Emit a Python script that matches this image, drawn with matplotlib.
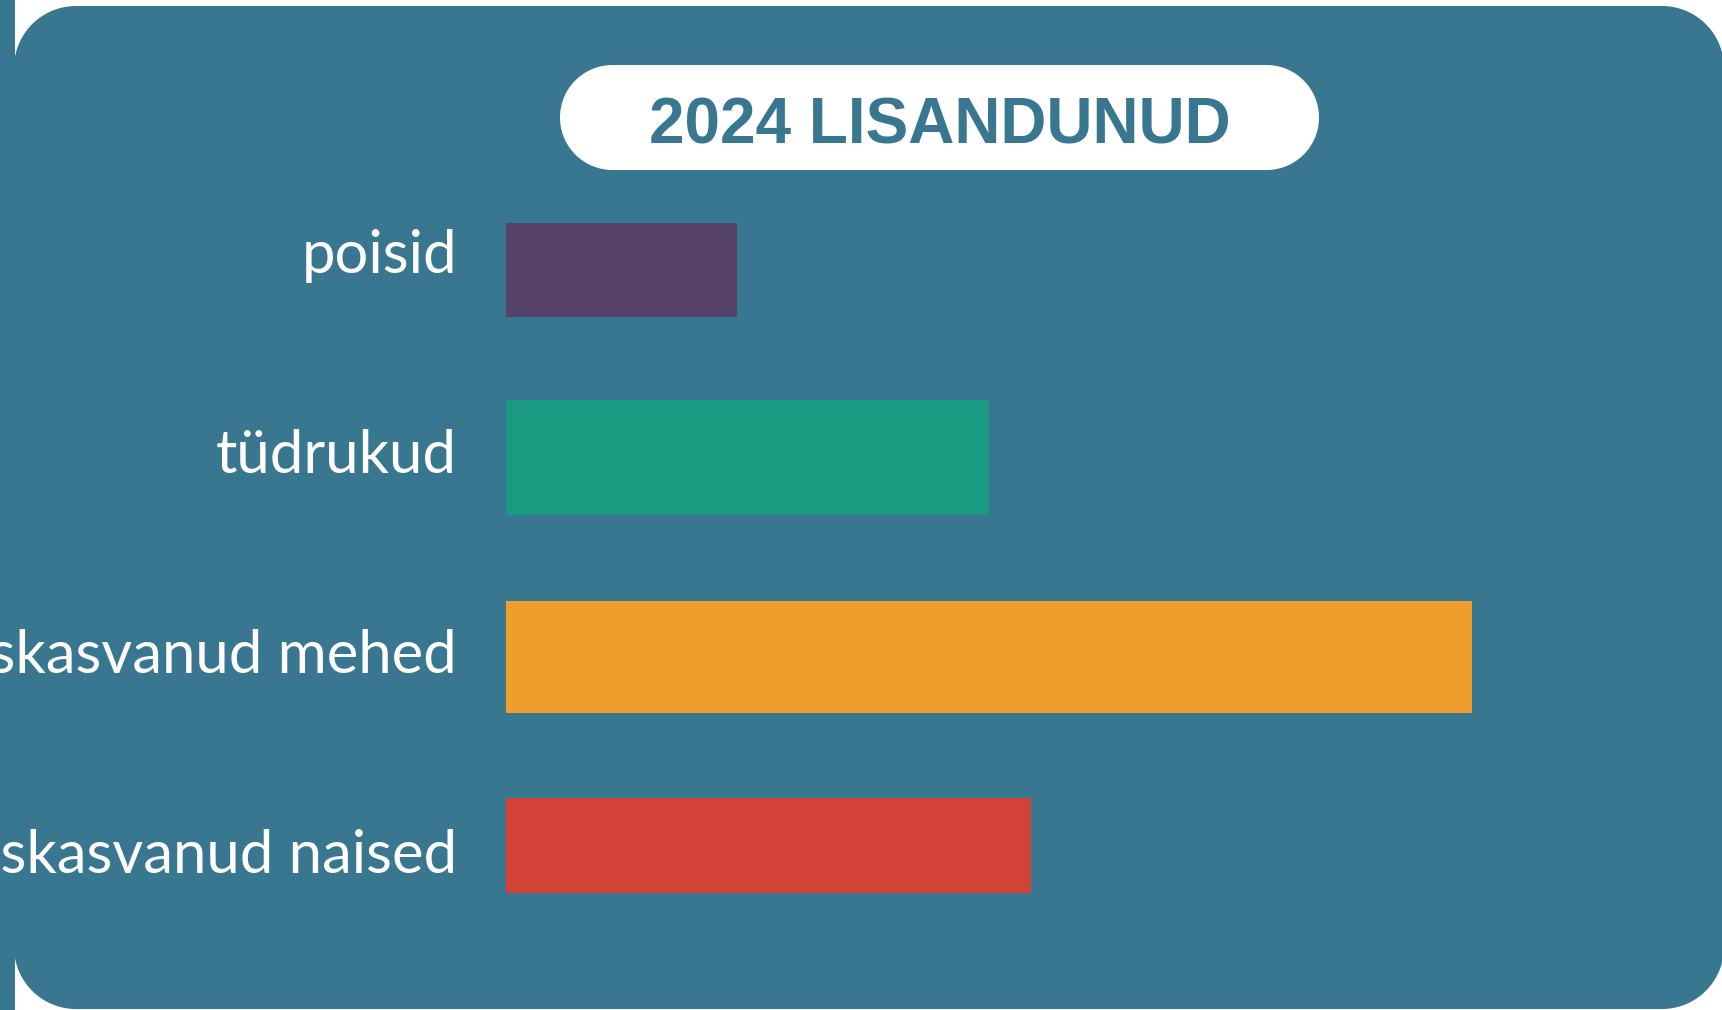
import matplotlib
matplotlib.use("Agg")
import matplotlib.pyplot as plt
import numpy as np
from matplotlib.patches import Polygon, Rectangle

# ---- data ----
categories = ["poisid", "tüdrukud", "täiskasvanud mehed", "täiskasvanud naised"]
values = [11, 23, 46, 25]
title = "2024 LISANDUNUD"

# ---- style ----
colors = ["#564268", "#1A9A80", "#EF9D2D", "#D24236"]
teal = "#38778F"
bar_centers = [270, 457.5, 657, 845.5]      # pixel rows
bar_heights = [94, 115, 112, 95]
label_baselines = [273, 473, 673, 873]


def rounded_rect(x, y, w, h, r, **kw):
    """Rounded rectangle with circular corners (y axis pointing down)."""
    t = np.linspace(0, np.pi / 2, 40)
    pts = []
    # top-left
    pts += list(zip(x + r - r * np.cos(t), y + r - r * np.sin(t)))
    # top-right
    pts += list(zip(x + w - r + r * np.sin(t), y + r - r * np.cos(t)))
    # bottom-right
    pts += list(zip(x + w - r + r * np.cos(t), y + h - r + r * np.sin(t)))
    # bottom-left
    pts += list(zip(x + r - r * np.sin(t), y + h - r + r * np.cos(t)))
    return Polygon(pts, closed=True, **kw)


W, H = 1722, 1010
fig = plt.figure(figsize=(W / 100, H / 100), dpi=100)
fig.patch.set_facecolor("white")

# background axes in pixel coordinates
bg = fig.add_axes([0, 0, 1, 1])
bg.set_xlim(0, W)
bg.set_ylim(H, 0)
bg.axis("off")
bg.add_patch(Rectangle((0, 0), 15, H, facecolor=teal, edgecolor="none"))
bg.add_patch(rounded_rect(14, 6, 1724 - 14, 1009 - 6, 62,
                          facecolor=teal, edgecolor="none"))
# title pill
bg.add_patch(rounded_rect(560, 65, 1319 - 560, 170 - 65, 52.5,
                          facecolor="white", edgecolor="none"))
bg.text(940, 127, title, ha="center", va="center", color=teal,
        fontsize=46, fontweight="bold", family="Liberation Sans")

# bar axes: x in value units, y in pixel rows
x0, x1 = 506, 1472
ax = fig.add_axes([x0 / W, 0, (x1 - x0) / W, 1])
ax.set_xlim(0, max(values))
ax.set_ylim(H, 0)
ax.axis("off")
ax.barh(bar_centers, values, height=bar_heights, color=colors, left=0)

for cat, yb in zip(categories, label_baselines):
    ax.annotate(cat, xy=(0, yb), xytext=(-49, 0), textcoords="offset pixels",
                ha="right", va="baseline", color="white", fontsize=43,
                family="Lato", annotation_clip=False)

fig.savefig("out.png", dpi=100, facecolor=fig.get_facecolor())
